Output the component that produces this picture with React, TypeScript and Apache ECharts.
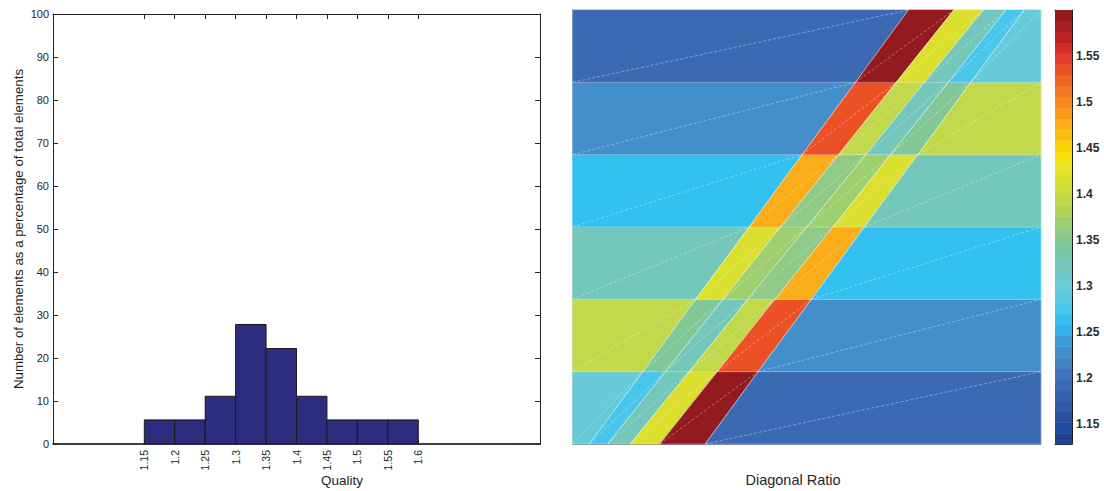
import React, { useEffect, useRef } from "react";
import * as echarts from "echarts";

// ---------- Histogram data ----------
const binEdges = [1.15, 1.2, 1.25, 1.3, 1.35, 1.4, 1.45, 1.5, 1.55, 1.6];
const percentages = [5.6, 5.6, 11.1, 27.8, 22.2, 11.1, 5.6, 5.6, 5.6];
const qualityTicks = [1.15, 1.2, 1.25, 1.3, 1.35, 1.4, 1.45, 1.5, 1.55, 1.6];

// ---------- Mesh data (node x positions per level, normalised 0..1) ----------
const nodeX = [
  [0, 0.036, 0.075, 0.123, 0.186, 0.283, 1],
  [0, 0.150, 0.198, 0.249, 0.309, 0.396, 1],
  [0, 0.263, 0.321, 0.374, 0.432, 0.510, 1],
  [0, 0.377, 0.444, 0.500, 0.556, 0.623, 1],
  [0, 0.490, 0.568, 0.626, 0.679, 0.737, 1],
  [0, 0.604, 0.691, 0.751, 0.802, 0.850, 1],
  [0, 0.717, 0.814, 0.877, 0.925, 0.964, 1],
];
// element quality (diagonal ratio), rows bottom -> top, columns left -> right
const elementQuality = [
  [1.305, 1.275, 1.32, 1.415, 1.595, 1.195],
  [1.395, 1.345, 1.32, 1.395, 1.53, 1.225],
  [1.325, 1.415, 1.37, 1.355, 1.48, 1.265],
  [1.265, 1.48, 1.355, 1.37, 1.415, 1.325],
  [1.225, 1.53, 1.395, 1.32, 1.345, 1.395],
  [1.195, 1.595, 1.415, 1.32, 1.275, 1.305],
];
const colorbarTicks = [1.15, 1.2, 1.25, 1.3, 1.35, 1.4, 1.45, 1.5, 1.55];
const colorMin = 1.1283;
const colorMax = 1.6;
const colorLevels = 40;

// ---------- colormap (style) ----------
const cmapAnchors: [number, string][] = [
  [1.1283, "#263a84"], [1.14, "#1d47a0"], [1.155, "#2a4d9f"], [1.17, "#3358a6"],
  [1.195, "#3d6bb3"], [1.21, "#4279bd"], [1.225, "#478bc8"], [1.24, "#3a9ad6"],
  [1.25, "#35ade6"], [1.265, "#32c3f2"], [1.275, "#47c6ec"], [1.29, "#5ec9e2"],
  [1.305, "#6ccbd3"], [1.32, "#72c7bf"], [1.335, "#78c6aa"], [1.345, "#80c79a"],
  [1.355, "#8bc98c"], [1.37, "#9fd070"], [1.38, "#b0d45a"], [1.395, "#c4da4a"],
  [1.415, "#d7df2e"], [1.43, "#ebe428"], [1.445, "#ffde00"], [1.46, "#fdc40c"],
  [1.48, "#f9a61c"], [1.5, "#f68b1f"], [1.515, "#f37323"], [1.53, "#f05a24"],
  [1.545, "#e5402a"], [1.56, "#d22a28"], [1.575, "#b51f24"], [1.59, "#991b20"],
  [1.6, "#8b191d"],
];

function hexToRgb(h: string) {
  return [parseInt(h.slice(1, 3), 16), parseInt(h.slice(3, 5), 16), parseInt(h.slice(5, 7), 16)];
}
function interpColor(v: number) {
  if (v <= cmapAnchors[0][0]) return cmapAnchors[0][1];
  for (let i = 1; i < cmapAnchors.length; i++) {
    const [v1, c1] = cmapAnchors[i];
    if (v <= v1) {
      const [v0, c0] = cmapAnchors[i - 1];
      const t = (v - v0) / (v1 - v0);
      const a = hexToRgb(c0), b = hexToRgb(c1);
      const r = a.map((x, k) => Math.round(x + (b[k] - x) * t));
      return `rgb(${r[0]},${r[1]},${r[2]})`;
    }
  }
  return cmapAnchors[cmapAnchors.length - 1][1];
}
const step = (colorMax - colorMin) / colorLevels;
function levelOf(v: number) {
  return Math.max(0, Math.min(colorLevels - 1, Math.floor((v - colorMin) / step)));
}
function levelColor(i: number) {
  return interpColor(colorMin + (i + 0.5) * step);
}

const FONT = "'Liberation Sans', Arial, Helvetica, sans-serif";
const TXT = "#262626";

export default function App() {
  const ref = useRef<HTMLDivElement>(null);
  useEffect(() => {
    if (!ref.current) return;
    const chart = echarts.init(ref.current, undefined, { renderer: "svg" });

    const histData = percentages.map((p, i) => [binEdges[i], binEdges[i + 1], p]);
    const meshData: number[][] = [];
    elementQuality.forEach((row, r) => row.forEach((q, c) => meshData.push([r, c, q])));
    const cbData = Array.from({ length: colorLevels }, (_, i) => [i]);

    const fmt = (v: number) => String(+(+v).toFixed(2));

    const option: any = {
      animation: false,
      textStyle: { fontFamily: FONT },
      grid: [
        { left: 53, top: 14, width: 487, height: 430 },
        { left: 572.5, top: 10, width: 468.5, height: 434 },
        { left: 1055, top: 10, width: 17, height: 434 },
      ],
      xAxis: [
        {
          gridIndex: 0, type: "value", min: 1.0, max: 1.8, position: "bottom",
          axisLine: { onZero: false, lineStyle: { color: "#000", width: 1.5 } },
          axisTick: { inside: true, length: 5, customValues: qualityTicks, lineStyle: { color: "#222" } },
          axisLabel: {
            customValues: qualityTicks, rotate: 90, fontSize: 10.5, color: TXT, margin: 6,
            formatter: fmt, fontFamily: FONT,
          },
          splitLine: { show: false },
        },
        {
          gridIndex: 0, type: "value", min: 1.0, max: 1.8, position: "top",
          axisLine: { onZero: false, lineStyle: { color: "#222", width: 1 } },
          axisTick: { inside: true, length: 5, customValues: qualityTicks, lineStyle: { color: "#222" } },
          axisLabel: { show: false },
          splitLine: { show: false },
        },
        {
          gridIndex: 1, type: "value", min: 0, max: 1, position: "bottom",
          axisLine: { onZero: false, lineStyle: { color: "#808080", width: 1 } },
          axisTick: { show: false }, axisLabel: { show: false }, splitLine: { show: false },
        },
        {
          gridIndex: 2, type: "value", min: 0, max: 1, position: "bottom",
          axisLine: { onZero: false, lineStyle: { color: "#222", width: 1 } },
          axisTick: { show: false }, axisLabel: { show: false }, splitLine: { show: false },
        },
        {
          gridIndex: 2, type: "value", min: 0, max: 1, position: "top",
          axisLine: { onZero: false, lineStyle: { color: "#222", width: 1 } },
          axisTick: { show: false }, axisLabel: { show: false }, splitLine: { show: false },
        },
      ],
      yAxis: [
        {
          gridIndex: 0, type: "value", min: 0, max: 100, interval: 10, position: "left",
          axisLine: { show: true, onZero: false, lineStyle: { color: "#222", width: 1 } },
          axisTick: { show: true, inside: true, length: 5, lineStyle: { color: "#222" } },
          axisLabel: { fontSize: 11, color: TXT, margin: 4, fontFamily: FONT },
          splitLine: { show: false },
        },
        {
          gridIndex: 0, type: "value", min: 0, max: 100, interval: 10, position: "right",
          axisLine: { show: true, onZero: false, lineStyle: { color: "#222", width: 1 } },
          axisTick: { show: true, inside: true, length: 5, lineStyle: { color: "#222" } },
          axisLabel: { show: false },
          splitLine: { show: false },
        },
        {
          gridIndex: 1, type: "value", min: 0, max: 6, position: "left",
          axisLine: { show: true, onZero: false, lineStyle: { color: "#808080", width: 1 } },
          axisTick: { show: false }, axisLabel: { show: false }, splitLine: { show: false },
        },
        {
          gridIndex: 2, type: "value", min: colorMin, max: colorMax, position: "right",
          axisLine: { show: true, onZero: false, lineStyle: { color: "#222", width: 1 } },
          axisTick: { show: true, inside: true, length: 4, customValues: colorbarTicks, lineStyle: { color: "#222" } },
          axisLabel: {
            customValues: colorbarTicks, fontSize: 12, fontWeight: "bold", color: "#2a2a2a",
            margin: 4, formatter: fmt, fontFamily: FONT,
          },
          splitLine: { show: false },
        },
        {
          gridIndex: 2, type: "value", min: colorMin, max: colorMax, position: "left",
          axisLine: { show: true, onZero: false, lineStyle: { color: "#222", width: 1 } },
          axisTick: { show: true, inside: true, length: 4, customValues: colorbarTicks, lineStyle: { color: "#222" } },
          axisLabel: { show: false },
          splitLine: { show: false },
        },
      ],
      series: [
        {
          type: "custom", xAxisIndex: 0, yAxisIndex: 0, data: histData, z: 2,
          renderItem: (params: any, api: any) => {
            const p0 = api.coord([api.value(0), api.value(2)]);
            const p1 = api.coord([api.value(1), 0]);
            return {
              type: "rect",
              shape: { x: p0[0], y: p0[1], width: p1[0] - p0[0], height: p1[1] - p0[1] },
              style: { fill: "#2c2d7e", stroke: "#1a1a1a", lineWidth: 1 },
            };
          },
        },
        {
          type: "custom", xAxisIndex: 2, yAxisIndex: 2, data: meshData, z: 2,
          renderItem: (params: any, api: any) => {
            const r = api.value(0), c = api.value(1), q = api.value(2);
            const bl = api.coord([nodeX[r][c], r]);
            const br = api.coord([nodeX[r][c + 1], r]);
            const tr = api.coord([nodeX[r + 1][c + 1], r + 1]);
            const tl = api.coord([nodeX[r + 1][c], r + 1]);
            const fill = levelColor(levelOf(q));
            return {
              type: "polygon",
              shape: { points: [bl, br, tr, tl] },
              style: { fill, stroke: fill, lineWidth: 0.6 },
            };
          },
        },
        {
          type: "custom", xAxisIndex: 2, yAxisIndex: 2, data: meshData, z: 3,
          renderItem: (params: any, api: any) => {
            const r = api.value(0), c = api.value(1);
            const bl = api.coord([nodeX[r][c], r]);
            const br = api.coord([nodeX[r][c + 1], r]);
            const tr = api.coord([nodeX[r + 1][c + 1], r + 1]);
            const tl = api.coord([nodeX[r + 1][c], r + 1]);
            const st = { stroke: "rgba(255,255,255,0.3)", lineWidth: 1, fill: "none" };
            return {
              type: "group",
              children: [
                { type: "polyline", shape: { points: [tl, bl, br, tr] }, style: st },
                { type: "line", shape: { x1: bl[0], y1: bl[1], x2: tr[0], y2: tr[1] }, style: { ...st, stroke: "rgba(255,255,255,0.35)", lineDash: [3, 2] } },
              ],
            };
          },
        },
        {
          type: "custom", xAxisIndex: 3, yAxisIndex: 3, data: cbData, z: 2,
          renderItem: (params: any, api: any) => {
            const i = api.value(0);
            const lo = colorMin + i * step;
            const p0 = api.coord([0, lo + step]);
            const p1 = api.coord([1, lo]);
            return {
              type: "rect",
              shape: { x: p0[0], y: p0[1], width: p1[0] - p0[0], height: p1[1] - p0[1] + 0.5 },
              style: { fill: levelColor(i) },
            };
          },
        },
      ],
      graphic: [
        {
          type: "text", x: 18, y: 229, rotation: Math.PI / 2,
          style: {
            text: "Number of elements as a percentage of total elements",
            fontSize: 13.3, fill: TXT, align: "center", verticalAlign: "middle", fontFamily: FONT,
          },
        },
        {
          type: "text", x: 342, y: 480,
          style: { text: "Quality", fontSize: 13.5, fill: TXT, align: "center", verticalAlign: "middle", fontFamily: FONT },
        },
        {
          type: "text", x: 793, y: 480,
          style: { text: "Diagonal Ratio", fontSize: 14.5, fill: TXT, align: "center", verticalAlign: "middle", fontFamily: FONT },
        },
      ],
    };
    chart.setOption(option);
    return () => chart.dispose();
  }, []);
  return (
    <div
      ref={ref}
      style={{ position: "absolute", left: 0, top: 0, width: 1104, height: 491, background: "#fff" }}
    />
  );
}
